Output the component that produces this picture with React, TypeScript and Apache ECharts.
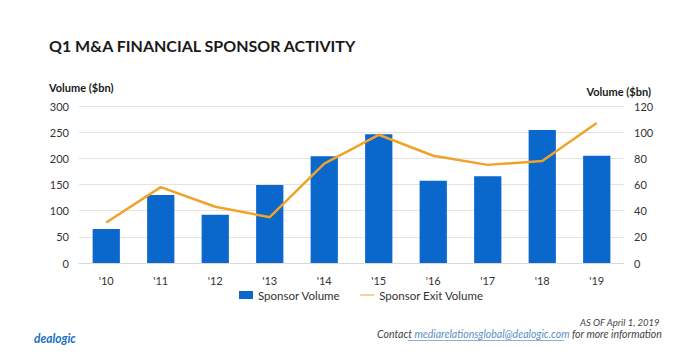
import React, { useEffect, useRef } from "react";
import * as echarts from "echarts";

const categories = ["'10", "'11", "'12", "'13", "'14", "'15", "'16", "'17", "'18", "'19"];
const sponsorVolume = [65, 130, 92, 149, 204, 246, 157, 166, 254, 205];
const sponsorExitVolume = [31, 58, 43, 35, 76, 98, 82, 75, 78, 107];
const leftTicks = { min: 0, max: 300, interval: 50 };
const rightTicks = { min: 0, max: 120, interval: 20 };

const FONT = "Lato";

export default function App() {
  const ref = useRef<HTMLDivElement>(null);
  useEffect(() => {
    if (!ref.current) return;
    const chart = echarts.init(ref.current, undefined, { renderer: "svg" });
    chart.setOption({
      animation: false,
      backgroundColor: "#ffffff",
      textStyle: { fontFamily: FONT },
      grid: { left: 79, right: 76, top: 106, bottom: 101 },
      legend: {
        bottom: 58,
        left: 234,
        itemGap: 20,
        itemWidth: 14,
        itemHeight: 8,
        textStyle: { fontSize: 11.5, color: "#333", fontFamily: FONT },
        data: [
          { name: "Sponsor Volume", icon: "rect" },
          { name: "Sponsor Exit Volume", icon: "path://M0,3.5 L14,3.5 L14,4.5 L0,4.5 Z" },
        ],
      },
      xAxis: {
        type: "category",
        data: categories,
        axisLine: { lineStyle: { color: "#d9d9d9" } },
        axisTick: { show: false },
        axisLabel: { color: "#333", fontSize: 11, margin: 12, fontFamily: FONT },
      },
      yAxis: [
        {
          type: "value",
          ...leftTicks,
          axisLine: { show: false },
          axisTick: { show: false },
          splitLine: { lineStyle: { color: "#e3e3e3" } },
          axisLabel: { color: "#333", fontSize: 11, margin: 10, fontFamily: FONT },
        },
        {
          type: "value",
          ...rightTicks,
          axisLine: { show: false },
          axisTick: { show: false },
          splitLine: { show: false },
          axisLabel: { color: "#333", fontSize: 11, margin: 10, fontFamily: FONT },
        },
      ],
      series: [
        {
          name: "Sponsor Volume",
          type: "bar",
          data: sponsorVolume,
          barWidth: "50%",
          itemStyle: { color: "#0a67cc" },
        },
        {
          name: "Sponsor Exit Volume",
          type: "line",
          yAxisIndex: 1,
          data: sponsorExitVolume,
          symbol: "none",
          lineStyle: { color: "#f0a229", width: 2.5 },
          itemStyle: { color: "#f0a229" },
        },
      ],
      graphic: [
        {
          type: "text",
          left: 49,
          top: 37,
          style: { text: "Q1 M&A FINANCIAL SPONSOR ACTIVITY", fontSize: 16, fontWeight: "bold", fill: "#1a1a1a", fontFamily: FONT },
        },
        {
          type: "text",
          left: 49,
          top: 82,
          style: { text: "Volume ($bn)", fontSize: 11, fontWeight: "bold", fill: "#1a1a1a", fontFamily: FONT },
        },
        {
          type: "text",
          right: 49,
          top: 86,
          style: { text: "Volume ($bn)", fontSize: 11, fontWeight: "bold", fill: "#1a1a1a", fontFamily: FONT },
        },
        {
          type: "text",
          left: 34,
          top: 331,
          scaleX: 0.85,
          style: { text: "dealogic", fontSize: 14, fontWeight: "bold", fontStyle: "italic", fill: "#1a6fc4", fontFamily: FONT },
        },
        {
          type: "text",
          right: 40,
          top: 317,
          style: { text: "AS OF April 1, 2019", fontSize: 9.5, fontStyle: "italic", fill: "#444", fontFamily: FONT },
        },
        {
          type: "text",
          right: 38,
          top: 328,
          style: {
            text: "{a|Contact }{b|mediarelationsglobal@dealogic.com}{a| for more information}",
            fontSize: 10.5,
            fontStyle: "italic",
            fontFamily: FONT,
            rich: {
              a: { fontSize: 10.5, fontStyle: "italic", fill: "#444", fontFamily: FONT },
              b: { fontSize: 10.5, fontStyle: "italic", fill: "#5b8fc7", fontFamily: FONT },
            },
          },
        },
        {
          type: "line",
          shape: { x1: 408, y1: 340.5, x2: 564, y2: 340.5 },
          style: { stroke: "#5b8fc7", lineWidth: 0.7 },
        },
      ],
    });
    return () => chart.dispose();
  }, []);
  return <div ref={ref} style={{ width: 700, height: 364, position: "absolute", left: 0, top: 0 }} />;
}
